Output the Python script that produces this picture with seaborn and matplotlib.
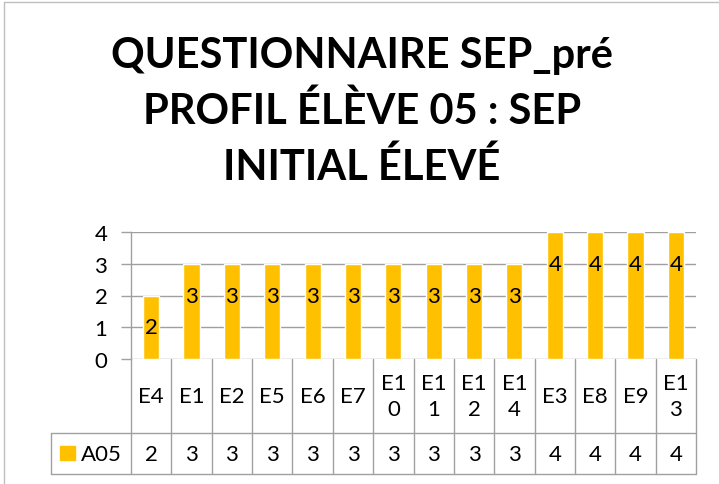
import matplotlib
matplotlib.use("Agg")
import matplotlib.pyplot as plt
from matplotlib.lines import Line2D
from matplotlib.patches import Rectangle
import matplotlib.transforms as mtransforms
import seaborn as sns
import pandas as pd

# Données du graphique
categories = ["E4", "E1", "E2", "E5", "E6", "E7", "E10", "E11", "E12", "E14", "E3", "E8", "E9", "E13"]
cat_labels = ["E4", "E1", "E2", "E5", "E6", "E7", "E1\n0", "E1\n1", "E1\n2", "E1\n4", "E3", "E8", "E9", "E1\n3"]
values = [2, 3, 3, 3, 3, 3, 3, 3, 3, 3, 4, 4, 4, 4]
series_name = "A05"
y_ticks = [0, 1, 2, 3, 4]
title = "QUESTIONNAIRE SEP_pré\nPROFIL ÉLÈVE 05 : SEP\nINITIAL ÉLEVÉ"

bar_color = "#FFC000"
line_color = "#A0A0A0"

sns.set_theme(style="white")
plt.rcParams['font.family'] = ['Lato', 'DejaVu Sans']
plt.rcParams['text.color'] = "black"
plt.rcParams['ytick.labelcolor'] = "black"

W, H = 719, 485
fig = plt.figure(figsize=(W / 100, H / 100), dpi=100)

def fy(y):
    # pixel depuis le haut -> fraction de figure
    return 1 - y / H

def fx(x):
    return x / W

ax = fig.add_axes([fx(131), fy(360), fx(696) - fx(131), fy(233) - fy(360)])

df = pd.DataFrame({"cat": categories, "val": values})
sns.barplot(data=df, x="cat", y="val", color=bar_color, width=0.4,
            saturation=1, ax=ax, zorder=3)

ax.set_ylim(0, 4)
ax.set_xlim(-0.5, len(categories) - 0.5)
ax.set_yticks(y_ticks)
ax.set_yticklabels([str(t) for t in y_ticks], fontsize=16, color="black")
ax.set_xticks(range(len(categories)))
ax.set_xticklabels([])
ax.set_xlabel("")
ax.set_ylabel("")
ax.yaxis.grid(True, color=line_color, lw=1, zorder=0)
ax.tick_params(axis="y", length=7, width=1, color=line_color, left=True, pad=10)
ax.tick_params(axis="x", length=0)
for s in ["top", "right", "bottom"]:
    ax.spines[s].set_visible(False)
ax.spines["left"].set_color(line_color)
ax.spines["left"].set_linewidth(1)

# Étiquettes de données
for patch, v in zip(ax.patches, values):
    cx = patch.get_x() + patch.get_width() / 2
    ax.annotate(str(v), xy=(cx, patch.get_height()), xytext=(0, -23),
                textcoords="offset points", ha="center", va="center",
                fontsize=16, color="black", zorder=4)

# Table de données sous le graphique
trans = mtransforms.blended_transform_factory(ax.transData, fig.transFigure)
n = len(categories)
for i in range(n + 1):
    ax.add_line(Line2D([i - 0.5, i - 0.5], [fy(360), fy(475)], transform=trans,
                       color=line_color, lw=1, clip_on=False))
for yy in [434, 475]:
    fig.add_artist(Line2D([fx(51), fx(696)], [fy(yy), fy(yy)], color=line_color, lw=1))
fig.add_artist(Line2D([fx(51), fx(51)], [fy(434), fy(475)], color=line_color, lw=1))

for i, (lab, v) in enumerate(zip(cat_labels, values)):
    ax.text(i, fy(397), lab, transform=trans, ha="center", va="center",
            fontsize=16, linespacing=1.35, clip_on=False)
    ax.text(i, fy(455), str(v), transform=trans, ha="center", va="center",
            fontsize=16, clip_on=False)

fig.add_artist(Rectangle((fx(60), fy(461)), fx(75) - fx(60), fy(447) - fy(461),
                         color=bar_color, transform=fig.transFigure))
fig.text(fx(81), fy(455), series_name, ha="left", va="center", fontsize=16)

# Titre
fig.text(fx(362), fy(112), title, ha="center", va="center", fontsize=30,
         fontweight="bold", linespacing=1.5, color="black")

# Bordure du graphique
fig.add_artist(Line2D([fx(4), fx(4)], [fy(3), 0], color="#BFBFBF", lw=1))
fig.add_artist(Line2D([fx(4), 1], [fy(3), fy(3)], color="#BFBFBF", lw=1))

fig.savefig("out.png", dpi=100)
